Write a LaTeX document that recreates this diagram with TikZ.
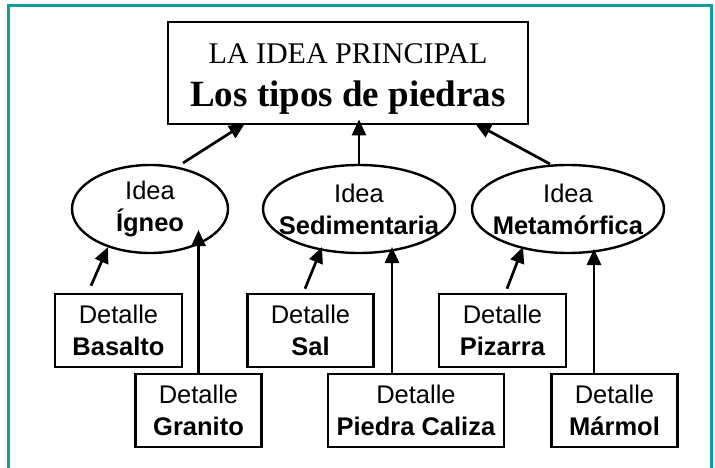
\documentclass[tikz,border=0pt]{standalone}
\usepackage{fontspec}
\setmainfont{Liberation Serif}
\setsansfont{Liberation Sans}
\usepackage{xcolor}
\usepackage{tikz}
\usetikzlibrary{shapes,arrows.meta,positioning,calc}
\definecolor{framecol}{RGB}{16,156,156}

\begin{document}
\begin{tikzpicture}[x=1pt,y=-1pt,
  detalle/.style={draw, line width=2.6pt, minimum width=126pt, minimum height=73pt,
    inner sep=0pt, align=center, font=\sffamily\fontsize{25.5}{31.5}\selectfont},
  idea/.style={draw, ellipse, line width=2.4pt, minimum height=88pt, inner sep=0pt},
  ideatxt/.style={align=center, inner sep=0pt, font=\sffamily\fontsize{25.5}{32}\selectfont},
  arr/.style={line width=2.7pt, -{Triangle[length=16pt,width=14pt]}}]
\useasboundingbox (0,0) rectangle (715,468);
% frame
\draw[framecol, line width=3pt] (8,470) -- (8,6) -- (711,6) -- (711,470);

% main idea
\node[draw, line width=2.8pt, minimum width=360pt, minimum height=102pt, inner sep=0pt,
  align=center, font=\fontsize{30}{43}\selectfont] (main) at (348,73)
  {\rule{0pt}{31pt}LA IDEA PRINCIPAL\\
   {\fontsize{37}{43}\selectfont\bfseries Los tipos de piedras}};

% ideas
\node[idea, minimum width=156pt, label={[ideatxt,name=igneotxt]center:{Idea\\\textbf{Ígneo}}}] (igneo) at (150,209) {};
\node[idea, minimum width=192pt, label={[ideatxt,name=sedimtxt]center:{Idea\\\textbf{Sedimentaria}}}] (sedim) at (359,209) {};
\node[idea, minimum width=192pt, label={[ideatxt,name=metatxt]center:{Idea\\\textbf{Metamórfica}}}] (meta) at (568,209) {};

% details
\node[detalle, minimum width=127pt] (basalto) at (118.5,330.5) {Detalle\\\textbf{Basalto}};
\node[detalle] (granito) at (198.5,410.5) {Detalle\\\textbf{Granito}};
\node[detalle] (sal) at (310.5,330.5) {Detalle\\\textbf{Sal}};
\node[detalle, minimum width=176pt] (caliza) at (416,410.5) {Detalle\\\textbf{Piedra Caliza}};
\node[detalle, minimum width=127pt] (pizarra) at (502.5,330.5) {Detalle\\\textbf{Pizarra}};
\node[detalle] (marmol) at (614.5,410.5) {Detalle\\\textbf{Mármol}};

% details to ideas
\draw[arr] ($(basalto.north)+(-27.5,-7)$) -- ($(igneo.center)+(-42,38)$);
\draw[arr] (granito.north) -- ($(granito.north |- igneo.center)+(0,21)$);
\draw[arr] ($(sal.north)+(-5.5,-4)$) -- ($(sedim.center)+(-37,38)$);
\draw[arr] ($(caliza.north)+(-24,0)$) -- ($(caliza.north |- sedim.center)+(-24,38)$);
\draw[arr] ($(pizarra.north)+(4.5,-4)$) -- ($(meta.center)+(-45,38)$);
\draw[arr] ($(marmol.north)+(-20.5,0)$) -- ($(marmol.north |- meta.center)+(-20.5,40)$);

% ideas to main idea
\draw[arr] ($(igneo.center)+(33,-46)$) -- ($(main.south)+(-103,-2)$);
\draw[arr] (sedim.north) -- ($(sedim.north |- main.south)+(0,-6)$);
\draw[arr] ($(meta.center)+(-18,-45)$) -- ($(main.south)+(127,-2)$);
\end{tikzpicture}
\end{document}
